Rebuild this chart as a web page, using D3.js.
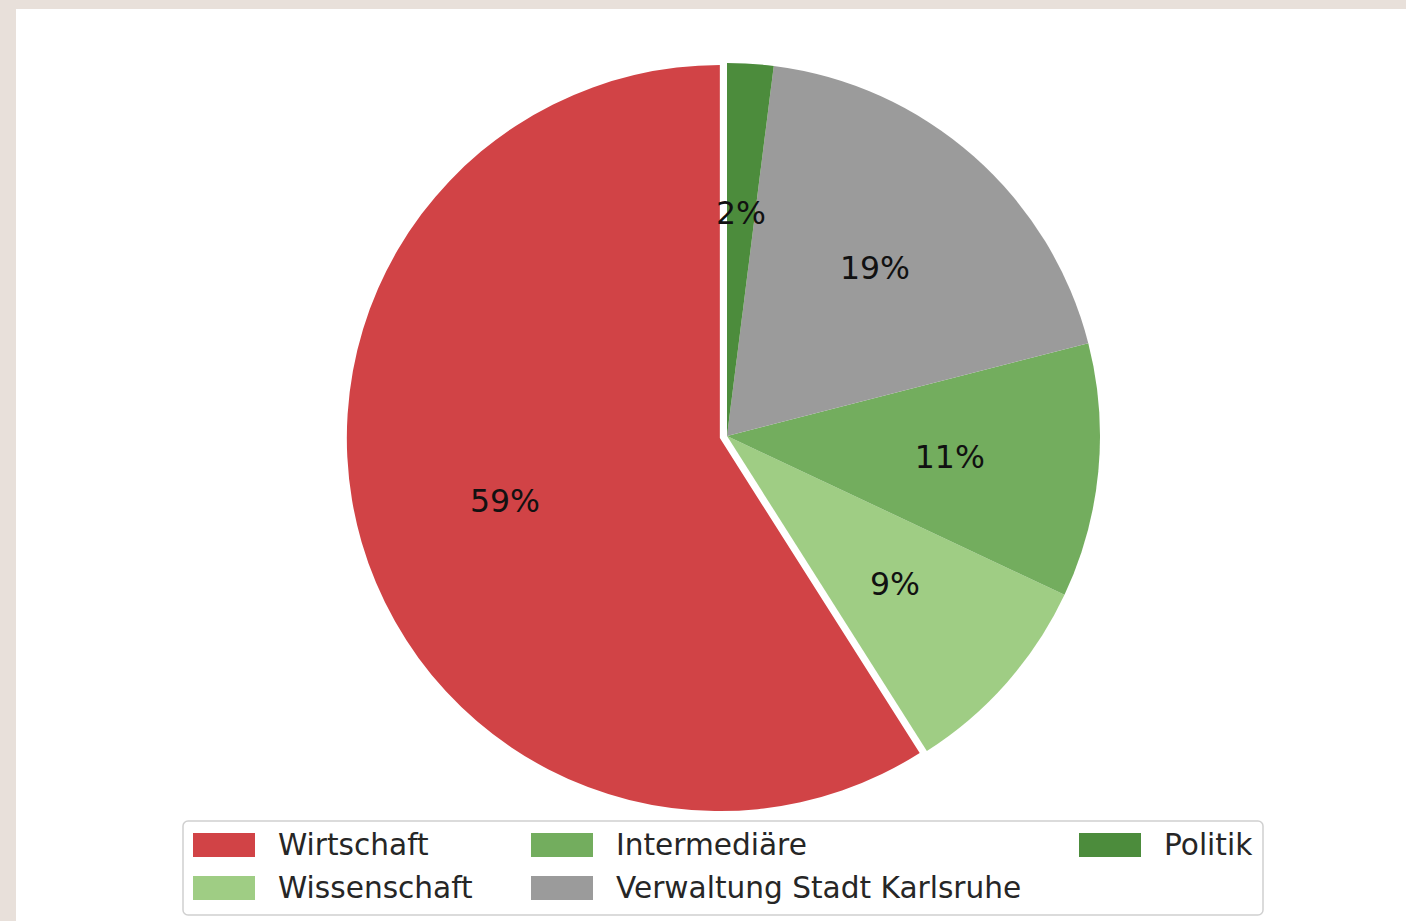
<!DOCTYPE html>
<html>
<head>
<meta charset="utf-8">
<script src="https://cdn.jsdelivr.net/npm/d3@7"></script>
<style>
  html, body { margin: 0; padding: 0; background: #e8e0da; }
  svg { display: block; }
</style>
</head>
<body>
<script>
  // slices, counterclockwise from 12 o'clock (matplotlib style)
  const categories = ["Wirtschaft", "Wissenschaft", "Intermediäre", "Verwaltung Stadt Karlsruhe", "Politik"];
  const shares = [59, 9, 11, 19, 2];
  const colors = ["#d14346", "#9fcd84", "#73ad5e", "#9b9b9b", "#4c8c3c"];
  const explode = [0.02, 0, 0, 0, 0];
  // legend is column-major, 3 columns
  const legendOrder = ["Wirtschaft", "Wissenschaft", "Intermediäre", "Verwaltung Stadt Karlsruhe", "Politik"];

  const W = 1406, H = 921;
  const cx = 727, cy = 436, r = 373;
  const font = "DejaVu Sans, sans-serif";

  const svg = d3.select('body')
    .append('svg')
    .attr('width', W)
    .attr('height', H);

  // white panel
  svg.append('rect')
    .attr('x', 16).attr('y', 9)
    .attr('width', W - 16).attr('height', H - 9)
    .attr('fill', '#ffffff');

  const data = categories.map(function(c, i) {
    return {name: c, value: shares[i], color: colors[i], explode: explode[i]};
  });

  // counterclockwise from top -> negate angles for d3 (which goes clockwise)
  const pie = d3.pie()
    .sort(null)
    .value(function(d) { return d.value; })
    .startAngle(0)
    .endAngle(-2 * Math.PI);

  const arcs = pie(data);

  const arc = d3.arc().innerRadius(0).outerRadius(r);
  const labelArc = d3.arc().innerRadius(r * 0.6).outerRadius(r * 0.6);

  const g = svg.append('g')
    .attr('transform', 'translate(' + cx + ',' + cy + ')');

  const slice = g.selectAll('.slice')
    .data(arcs)
    .enter().append('g')
    .attr('class', 'slice')
    .attr('transform', function(d) {
      const mid = (d.startAngle + d.endAngle) / 2;
      const off = d.data.explode * r;
      return 'translate(' + (Math.sin(mid) * off) + ',' + (-Math.cos(mid) * off) + ')';
    });

  slice.append('path')
    .attr('d', arc)
    .attr('fill', function(d) { return d.data.color; });

  slice.append('text')
    .attr('transform', function(d) {
      const c = labelArc.centroid(d);
      return 'translate(' + c[0] + ',' + c[1] + ')';
    })
    .attr('text-anchor', 'middle')
    .attr('dominant-baseline', 'central')
    .attr('font-family', font)
    .attr('font-size', '31.5px')
    .attr('fill', '#111')
    .text(function(d) { return d3.format('.0f')(d.data.value) + '%'; });

  // legend
  const legend = svg.append('g').attr('class', 'legend');
  legend.append('rect')
    .attr('x', 183).attr('y', 821)
    .attr('width', 1080).attr('height', 94)
    .attr('rx', 5)
    .attr('fill', '#ffffff')
    .attr('stroke', '#d0d0d0')
    .attr('stroke-width', 1.5);

  const colX = [193, 531, 1079];
  const rowY = [845, 888];

  const item = legend.selectAll('.item')
    .data(legendOrder)
    .enter().append('g')
    .attr('class', 'item')
    .attr('transform', function(d, i) {
      return 'translate(' + colX[Math.floor(i / 2)] + ',' + rowY[i % 2] + ')';
    });

  item.append('rect')
    .attr('x', 0).attr('y', -12)
    .attr('width', 62).attr('height', 24)
    .attr('fill', function(d) { return colors[categories.indexOf(d)]; });

  item.append('text')
    .attr('x', 85)
    .attr('dominant-baseline', 'central')
    .attr('font-family', font)
    .attr('font-size', '29.6px')
    .attr('fill', '#262626')
    .text(function(d) { return d; });
</script>
</body>
</html>
